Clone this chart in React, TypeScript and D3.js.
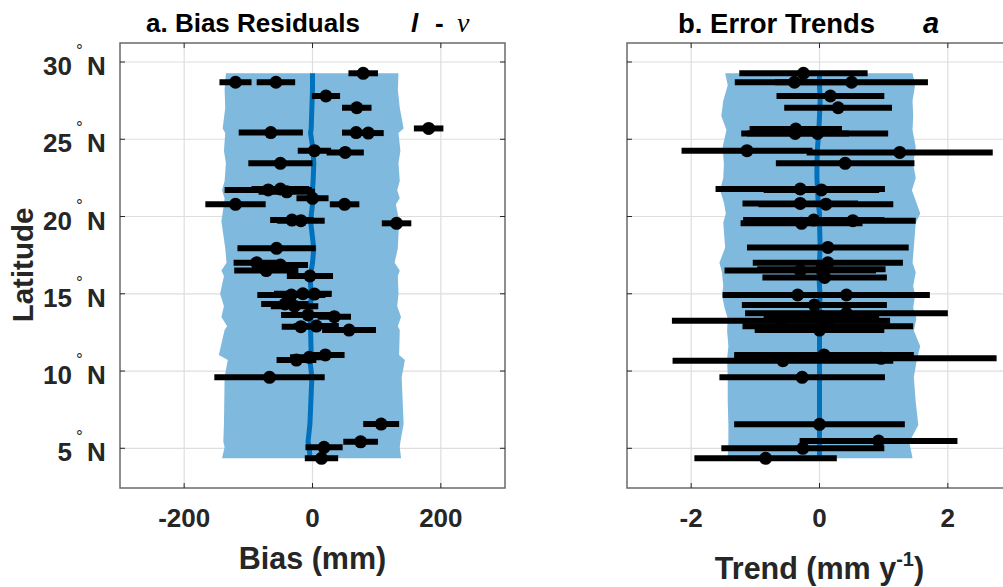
import React from "react";
import * as d3 from "d3";

// ---------- Data ----------
const latTicks = [5, 10, 15, 20, 25, 30];
const biasTicks = [-200, 0, 200];
const trendTicks = [-2, 0, 2];

// Panel a: bias residuals (mm) with half-width of error bars
const biasLat = [29.27, 28.69, 28.69, 27.8, 27.04, 25.7, 25.43, 25.43, 25.4, 24.26, 24.15, 23.44, 21.72, 21.78, 21.6, 21.18, 20.79, 20.79, 19.77, 19.73, 19.56, 17.94, 17.0, 16.5, 16.86, 16.15, 14.92, 15.0, 14.98, 14.34, 14.2, 13.63, 13.52, 12.87, 12.91, 12.65, 10.71, 10.89, 11.04, 9.59, 6.57, 5.42, 5.06, 4.35];
const bias = [79, -120, -57, 21, 69, 181, -65, 68, 87, 3, 51, -50, -69, -50, -40, 0, 50, -120, -32, -18, 131, -56, -87, -72, -50, -4, -33, -15, 3, -43, -28, -7, 34, -18, 6, 57, -25, -5, 20, -67, 107, 75, 18, 14];
const biasErr = [23, 25, 30, 22, 23, 23, 50, 22, 24, 26, 29, 50, 68, 45, 44, 25, 23, 47, 34, 37, 23, 61, 36, 50, 43, 36, 53, 45, 26, 37, 37, 42, 26, 30, 35, 42, 31, 30, 30, 86, 28, 27, 29, 26];

// Panel a: spread band and mean
const bandLatA = [29.27, 28.2, 27.04, 25.7, 25.4, 24.26, 23.44, 22.3, 21.7, 21.18, 20.79, 19.7, 17.94, 17.0, 16.5, 16.15, 15.0, 14.2, 13.5, 12.9, 12.65, 11.04, 10.71, 9.59, 6.57, 5.42, 5.06, 4.35];
const bandLoA = [-135, -137, -136, -140, -136, -138, -135, -137, -141, -137, -138, -142, -136, -134, -142, -138, -144, -138, -142, -133, -137, -146, -132, -137, -138, -139, -137, -141];
const bandHiA = [134, 133, 136, 142, 134, 137, 134, 136, 132, 136, 130, 135, 133, 128, 136, 133, 134, 132, 138, 133, 136, 135, 144, 139, 142, 137, 136, 138];
const meanA = [0, 0, -1, -2, -3, 1, 2, 1, 0, 1, 0, -3, 2, 0, -2, -4, -2, -3, -2, -4, -3, -2, -4, -1, -4, -7, -5, -4];

// Panel b: error trends (mm/y)
const trendLat = [29.27, 28.69, 28.69, 27.8, 27.04, 25.66, 25.38, 25.38, 24.26, 24.15, 23.44, 21.78, 21.72, 20.85, 20.8, 19.56, 19.77, 19.73, 18.0, 17.0, 16.5, 16.58, 16.06, 14.92, 14.92, 14.27, 13.74, 13.52, 13.26, 12.9, 12.65, 11.04, 10.67, 10.82, 9.59, 6.55, 5.47, 5.0, 4.35];
const trend = [-0.25, -0.39, 0.5, 0.17, 0.29, -0.37, -0.38, -0.03, -1.13, 1.25, 0.4, -0.3, 0.03, -0.3, 0.1, -0.28, -0.09, 0.52, 0.13, 0.13, -0.3, 0.03, 0.08, -0.34, 0.42, -0.08, 0.42, 0.03, -0.6, 0.13, 0.0, 0.07, -0.57, 0.96, -0.27, 0.0, 0.92, -0.26, -0.84];
const trendErr = [1.0, 0.93, 1.19, 0.84, 0.84, 0.72, 0.84, 1.1, 1.02, 1.45, 1.08, 1.32, 0.9, 0.9, 1.05, 0.95, 1.1, 0.98, 1.26, 1.17, 1.18, 1.0, 0.97, 1.17, 1.3, 1.13, 1.58, 0.9, 1.7, 1.33, 1.01, 1.4, 1.72, 1.8, 1.29, 1.33, 1.23, 1.27, 1.11];

const bandLatB = [29.27, 28.5, 27.5, 26.5, 25.6, 24.5, 23.4, 22.5, 21.7, 20.9, 20.2, 19.6, 18.0, 17.0, 16.4, 15.5, 14.9, 14.1, 13.4, 12.6, 11.6, 10.8, 9.6, 8.0, 6.5, 5.4, 4.35];
const bandLoB = [-1.47, -1.43, -1.5, -1.53, -1.45, -1.51, -1.49, -1.5, -1.55, -1.49, -1.46, -1.5, -1.47, -1.56, -1.52, -1.5, -1.52, -1.48, -1.43, -1.44, -1.42, -1.44, -1.43, -1.43, -1.42, -1.42, -1.43];
const bandHiB = [1.45, 1.49, 1.45, 1.46, 1.45, 1.5, 1.46, 1.5, 1.44, 1.51, 1.57, 1.5, 1.47, 1.45, 1.5, 1.46, 1.49, 1.46, 1.51, 1.47, 1.57, 1.52, 1.47, 1.5, 1.54, 1.4, 1.45];
const meanB = [0, 0, 0.01, 0, -0.01, -0.03, -0.04, -0.04, -0.03, -0.02, 0, 0, 0.01, 0, -0.01, 0, 0.01, 0, 0, 0, 0, 0, 0, 0, 0, 0, 0];

// ---------- Layout ----------
const W = 1003;
const H = 587;
const TOP = 43;
const BOTTOM = 488;
const FONT = "'Liberation Sans', Arial, Helvetica, sans-serif";
const TXT = "#262626";

const yScale = d3.scaleLinear().domain([2.43, 31.23]).range([BOTTOM, TOP]);

type PanelProps = {
  id: string;
  x: d3.ScaleLinear<number, number>;
  xTicks: number[];
  lat: number[];
  val: number[];
  err: number[];
  bLat: number[];
  bLo: number[];
  bHi: number[];
  bMean: number[];
  yLabels: boolean;
};

function Panel({ id, x, xTicks, lat, val, err, bLat, bLo, bHi, bMean, yLabels }: PanelProps) {
  const [x0, x1] = x.range();
  const y = yScale;
  const bandIdx = bLat.map((_, i) => i);
  const area = d3
    .area<number>()
    .y((i) => y(bLat[i]))
    .x0((i) => x(bLo[i]))
    .x1((i) => x(bHi[i]));
  const line = d3
    .line<number>()
    .x((i) => x(bMean[i]))
    .y((i) => y(bLat[i]));
  const tl = 5;
  return (
    <g>
      <defs>
        <clipPath id={"clip" + id}>
          <rect x={x0} y={TOP} width={x1 - x0} height={BOTTOM - TOP} />
        </clipPath>
      </defs>
      <rect x={x0} y={TOP} width={x1 - x0} height={BOTTOM - TOP} fill="#fff" />
      {/* grid */}
      {xTicks.map((t) => (
        <line key={"gx" + t} x1={x(t)} x2={x(t)} y1={TOP} y2={BOTTOM} stroke="#dedede" strokeWidth={1.2} />
      ))}
      {latTicks.map((t) => (
        <line key={"gy" + t} x1={x0} x2={x1} y1={y(t)} y2={y(t)} stroke="#dedede" strokeWidth={1.2} />
      ))}
      <g clipPath={`url(#clip${id})`}>
        <path d={area(bandIdx) || ""} fill="#80B9DE" />
        <path d={line(bandIdx) || ""} fill="none" stroke="#0072BD" strokeWidth={5} />
        {lat.map((l, i) => (
          <line
            key={"e" + i}
            x1={x(val[i] - err[i])}
            x2={x(val[i] + err[i])}
            y1={y(l)}
            y2={y(l)}
            stroke="#000"
            strokeWidth={6}
          />
        ))}
        {lat.map((l, i) => (
          <circle key={"p" + i} cx={x(val[i])} cy={y(l)} r={6.5} fill="#000" />
        ))}
      </g>
      {/* box */}
      <rect x={x0} y={TOP} width={x1 - x0} height={BOTTOM - TOP} fill="none" stroke="#6a6a6a" strokeWidth={1.5} />
      {/* ticks */}
      {xTicks.map((t) => (
        <g key={"tx" + t}>
          <line x1={x(t)} x2={x(t)} y1={BOTTOM} y2={BOTTOM - tl} stroke={TXT} strokeWidth={1} />
          <line x1={x(t)} x2={x(t)} y1={TOP} y2={TOP + tl} stroke={TXT} strokeWidth={1} />
          <text
            x={x(t)}
            y={527}
            textAnchor="middle"
            fontFamily={FONT}
            fontWeight="bold"
            fontSize={26}
            fill={TXT}
          >
            {t < 0 ? "-" + Math.abs(t) : String(t)}
          </text>
        </g>
      ))}
      {latTicks.map((t) => (
        <g key={"ty" + t}>
          <line x1={x0} x2={x0 + tl} y1={y(t)} y2={y(t)} stroke={TXT} strokeWidth={1} />
          <line x1={x1} x2={x1 - tl} y1={y(t)} y2={y(t)} stroke={TXT} strokeWidth={1} />
          {yLabels && (
            <g fontFamily={FONT} fill={TXT}>
              <text x={72} y={y(t) + 13} textAnchor="end" fontWeight="bold" fontSize={26}>
                {t}
              </text>
              <text x={76} y={y(t) - 6} fontSize={17}>
                °
              </text>
              <text x={87} y={y(t) + 13} fontWeight="bold" fontSize={26}>
                N
              </text>
            </g>
          )}
        </g>
      ))}
    </g>
  );
}

export default function App() {
  const xA = d3.scaleLinear().domain([-300, 300]).range([120, 505]);
  const xB = d3.scaleLinear().domain([-3, 3]).range([627, 1012]);
  return (
    <svg
      width={W}
      height={H}
      viewBox={`0 0 ${W} ${H}`}
      style={{ position: "absolute", left: 0, top: 0, background: "#fff" }}
    >
      <rect width={W} height={H} fill="#fff" />
      <Panel
        id="a"
        x={xA}
        xTicks={biasTicks}
        lat={biasLat}
        val={bias}
        err={biasErr}
        bLat={bandLatA}
        bLo={bandLoA}
        bHi={bandHiA}
        bMean={meanA}
        yLabels={true}
      />
      <Panel
        id="b"
        x={xB}
        xTicks={trendTicks}
        lat={trendLat}
        val={trend}
        err={trendErr}
        bLat={bandLatB}
        bLo={bandLoB}
        bHi={bandHiB}
        bMean={meanB}
        yLabels={false}
      />
      {/* Titles */}
      <g fontFamily={FONT} fill="#000" fontSize={26}>
        <text x={146} y={32} fontWeight="bold">
          a. Bias Residuals
        </text>
        <text x={411} y={32} fontWeight="bold" fontStyle="italic">
          l
        </text>
        <text x={435} y={32} fontWeight="bold">
          -
        </text>
        <text x={457} y={32} fontFamily="'Liberation Serif', 'DejaVu Serif', serif" fontStyle="italic" fontSize={28}>
          ν
        </text>
        <text x={678} y={33} fontWeight="bold" fontSize={27.5}>
          b. Error Trends
        </text>
        <text x={923} y={33} fontWeight="bold" fontStyle="italic" fontSize={29}>
          a
        </text>
      </g>
      {/* Axis labels */}
      <g fontFamily={FONT} fill={TXT} fontWeight="bold" fontSize={30.5}>
        <text x={xA(0)} y={569} textAnchor="middle">
          Bias (mm)
        </text>
        <text x={xB(0)} y={579} textAnchor="middle">
          Trend (mm y<tspan fontSize={20} dy={-13}>-1</tspan>
          <tspan dy={13}>)</tspan>
        </text>
        <text transform={`translate(33,265) rotate(-90)`} textAnchor="middle" fontSize={29.5}>
          Latitude
        </text>
      </g>
    </svg>
  );
}
